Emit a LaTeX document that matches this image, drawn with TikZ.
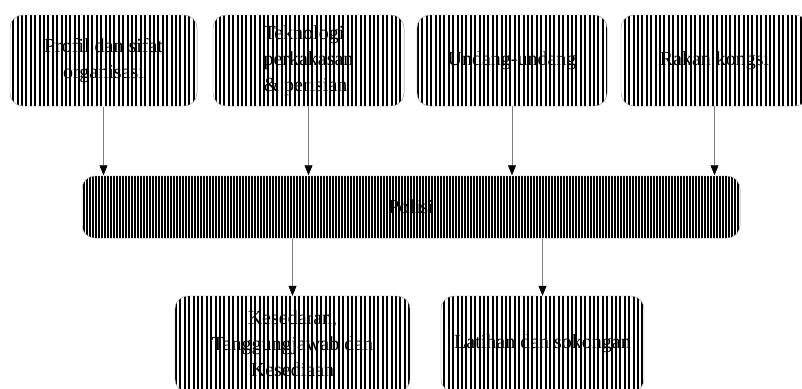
\documentclass[tikz,border=0pt]{standalone}
\usepackage{fontspec}
\setmainfont{Liberation Serif}
\usetikzlibrary{arrows.meta,patterns.meta,positioning}

\begin{document}
\begin{tikzpicture}[x=1pt,y=-1pt,
                    stripebox/.style={draw=black!45,rounded corners=13pt,inner sep=2pt,
                        pattern={Lines[angle=90,distance=4.4pt,line width=2pt]},
                        font=\fontsize{20}{26}\selectfont,align=center},
                    topbox/.style={stripebox,minimum width=189pt,minimum height=91pt},
                    flow/.style={draw=black!50,line width=0.6pt,
                        -{Triangle[length=10pt,width=8pt,color=black]}}]
    \useasboundingbox (0,0) rectangle (802,388);

    \node at (103.5, 60.5) (profil)    [topbox,minimum width=187pt] {Profil dan sifat\\organisasi};
    \node at (308.5, 60.5) (teknologi) [topbox,minimum width=191pt,align=left] {Teknologi\\perkakasan\\\& perisian};
    \node at (512.0, 60.5) (undang)    [topbox,minimum width=190pt] {Undang-undang};
    \node at (714.5, 60.5) (rakan)     [topbox,minimum width=187pt] {Rakan kongsi};

    \node at (411.0,207.0) (polisi)    [stripebox,minimum width=658pt,minimum height=62pt,
                                        pattern={Lines[angle=90,distance=3pt,line width=1.5pt]}] {Polisi};

    \node at (292.5,344.0) (kesedaran) [stripebox,minimum width=235pt,minimum height=96pt]
                                       {Kesedaran,\\Tanggungjawab dan\\Kesediaan};
    \node at (542.5,344.0) (latihan)   [stripebox,minimum width=203pt,minimum height=96pt]
                                       {Latihan dan sokongan};

    % into Polisi
    \draw [flow] (profil.south)    -- (profil.south |- polisi.north);
    \draw [flow] (teknologi.south) -- (teknologi.south |- polisi.north);
    \draw [flow] (undang.south)    -- (undang.south |- polisi.north);
    \draw [flow] (rakan.south)     -- (rakan.south |- polisi.north);

    % out of Polisi
    \draw [flow] (polisi.south -| kesedaran.north) -- (kesedaran.north);
    \draw [flow] (polisi.south -| latihan.north)   -- (latihan.north);
\end{tikzpicture}
\end{document}
